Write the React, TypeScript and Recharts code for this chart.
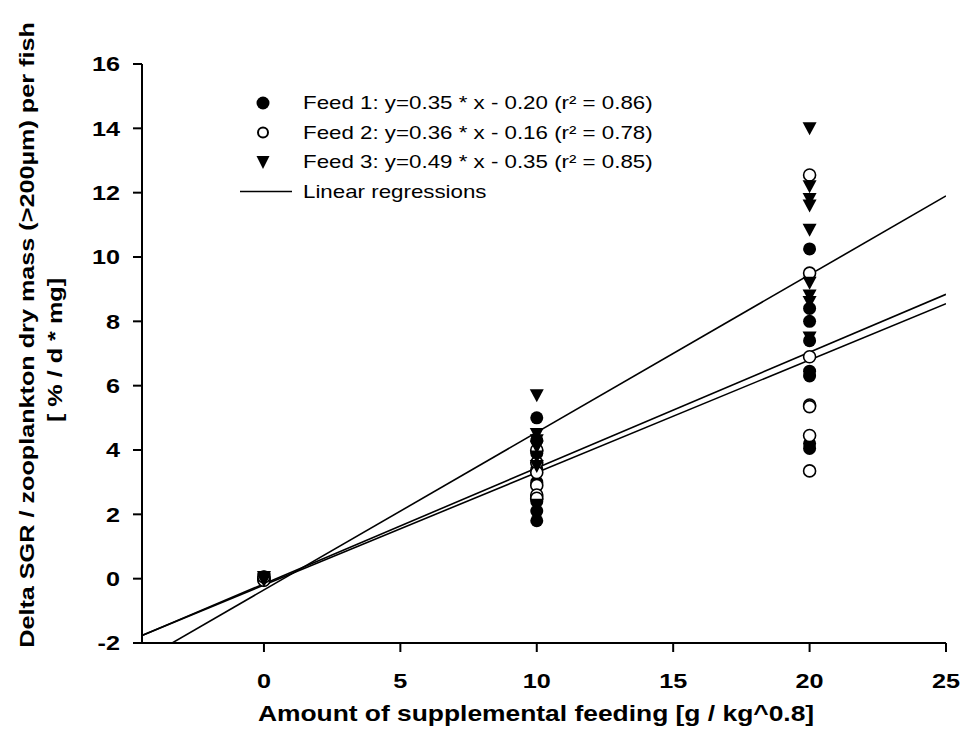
import {
  ComposedChart,
  Line,
  Scatter,
  XAxis,
  YAxis,
} from 'recharts'

const feed1X = [0, 0, 0, 10, 10, 10, 10, 10, 10, 10, 10, 20, 20, 20, 20, 20, 20, 20, 20]
const feed1Y = [0.05, -0.05, 0.0, 5.0, 4.3, 3.9, 3.4, 3.0, 2.4, 2.1, 1.8, 10.25, 8.4, 8.0, 7.4, 6.45, 6.3, 4.2, 4.05]

const feed2X = [0, 0, 0, 10, 10, 10, 10, 10, 10, 20, 20, 20, 20, 20, 20, 20]
const feed2Y = [0.0, -0.05, 0.05, 4.0, 3.6, 3.3, 2.9, 2.6, 2.5, 12.55, 9.5, 6.9, 5.4, 5.35, 4.45, 3.35]

const feed3X = [0, 0, 0, 10, 10, 10, 10, 10, 10, 10, 20, 20, 20, 20, 20, 20, 20, 20, 20]
const feed3Y = [0.0, 0.05, -0.05, 5.7, 4.5, 4.3, 4.1, 3.8, 3.5, 2.3, 14.0, 12.2, 11.8, 11.6, 10.85, 9.2, 8.8, 8.6, 7.5]

// regression coefficients from the legend: [slope, intercept]
const fits: [number, number][] = [
  [0.35, -0.2],
  [0.36, -0.16],
  [0.49, -0.35],
]

const legendLabels = [
  'Feed 1: y=0.35 * x - 0.20 (r² = 0.86)',
  'Feed 2: y=0.36 * x - 0.16 (r² = 0.78)',
  'Feed 3: y=0.49 * x - 0.35 (r² = 0.85)',
  'Linear regressions',
]

const xTicks = [0, 5, 10, 15, 20, 25]
const yTicks = [-2, 0, 2, 4, 6, 8, 10, 12, 14, 16]
const X_MIN = -4.47
const X_MAX = 25

const FONT = 'Arial, "Liberation Sans", sans-serif'
// the original's lettering is a bit wider than Arial
const STRETCH = 1.2

const zip = (xs: number[], ys: number[]) => xs.map((x, i) => ({ x, y: ys[i] }))

const fitLine = ([m, b]: [number, number]) => [
  { x: X_MIN, y: m * X_MIN + b },
  { x: X_MAX, y: m * X_MAX + b },
]

const FilledDot = (p: any) => <circle cx={p.cx} cy={p.cy} r={6.5} fill="#000" />
const OpenDot = (p: any) => (
  <circle cx={p.cx} cy={p.cy} r={6} fill="#fff" stroke="#000" strokeWidth={1.6} />
)
const Tri = (p: any) => (
  <path
    d={`M${p.cx - 7},${p.cy - 6} L${p.cx + 7},${p.cy - 6} L${p.cx},${p.cy + 7} Z`}
    fill="#000"
  />
)

// wide text: anchor at (x, y), stretched sideways
function Wide({ x, y, anchor, dy, size, bold, rotate = 0, sx = STRETCH, children }: any) {
  return (
    <g transform={`translate(${x},${y}) rotate(${rotate}) scale(${sx},1)`}>
      <text
        textAnchor={anchor}
        dy={dy}
        fontSize={size}
        fontWeight={bold ? 700 : 400}
        fontFamily={FONT}
        fill="#000"
      >
        {children}
      </text>
    </g>
  )
}

const XTick = (p: any) => (
  <Wide x={p.x} y={p.y} anchor="middle" dy="0.71em" size={21} bold>
    {p.payload.value}
  </Wide>
)
const YTick = (p: any) => (
  <Wide x={p.x} y={p.y} anchor="end" dy="0.35em" size={21} bold>
    {p.payload.value}
  </Wide>
)

// legend, axis titles (drawn on top of the chart)
function Overlay() {
  const rowY = [103, 132.5, 162, 191.5]
  return (
    <svg
      width={962}
      height={744}
      style={{ position: 'absolute', left: 0, top: 0, pointerEvents: 'none' }}
    >
      <circle cx={263} cy={rowY[0]} r={6.5} fill="#000" />
      <circle cx={263} cy={rowY[1]} r={5} fill="#fff" stroke="#000" strokeWidth={2} />
      <path d={`M256.5,${rowY[2] - 6} L269.5,${rowY[2] - 6} L263,${rowY[2] + 7} Z`} fill="#000" />
      <line x1={240} x2={292} y1={rowY[3]} y2={rowY[3]} stroke="#000" strokeWidth={1.6} />
      {legendLabels.map((t, i) => (
        <Wide key={t} x={303} y={rowY[i]} anchor="start" dy="0.35em" size={18} sx={1.24}>
          {t}
        </Wide>
      ))}
      <Wide x={34} y={335} rotate={-90} anchor="middle" size={21} bold>
        Delta SGR / zooplankton dry mass (&gt;200µm) per fish
      </Wide>
      <Wide x={62} y={350} rotate={-90} anchor="middle" size={21} bold>
        [ % / d * mg]
      </Wide>
      <Wide x={536} y={721} anchor="middle" size={22} bold>
        Amount of supplemental feeding [g / kg^0.8]
      </Wide>
    </svg>
  )
}

export default function App() {
  return (
    <div style={{ position: 'absolute', left: 0, top: 0, width: 962, height: 744, background: '#fff' }}>
      <ComposedChart
        width={962}
        height={744}
        margin={{ top: 64, right: 16, bottom: 0, left: 0 }}
      >
        <XAxis
          type="number"
          dataKey="x"
          domain={[X_MIN, X_MAX]}
          ticks={xTicks}
          allowDataOverflow
          height={101}
          tick={XTick}
          tickSize={9}
          tickMargin={21}
          axisLine={{ stroke: '#000', strokeWidth: 2 }}
          tickLine={{ stroke: '#000', strokeWidth: 2 }}
        />
        <YAxis
          type="number"
          dataKey="y"
          domain={[-2, 16]}
          ticks={yTicks}
          allowDataOverflow
          width={142}
          tick={YTick}
          tickSize={9}
          tickMargin={13}
          axisLine={{ stroke: '#000', strokeWidth: 2 }}
          tickLine={{ stroke: '#000', strokeWidth: 2 }}
        />
        {fits.map((f, i) => (
          <Line
            key={i}
            data={fitLine(f)}
            dataKey="y"
            stroke="#000"
            strokeWidth={1.6}
            dot={false}
            activeDot={false}
            isAnimationActive={false}
          />
        ))}
        <Scatter data={zip(feed1X, feed1Y)} dataKey="y" shape={FilledDot} isAnimationActive={false} />
        <Scatter data={zip(feed2X, feed2Y)} dataKey="y" shape={OpenDot} isAnimationActive={false} />
        <Scatter data={zip(feed3X, feed3Y)} dataKey="y" shape={Tri} isAnimationActive={false} />
      </ComposedChart>
      <Overlay />
    </div>
  )
}
